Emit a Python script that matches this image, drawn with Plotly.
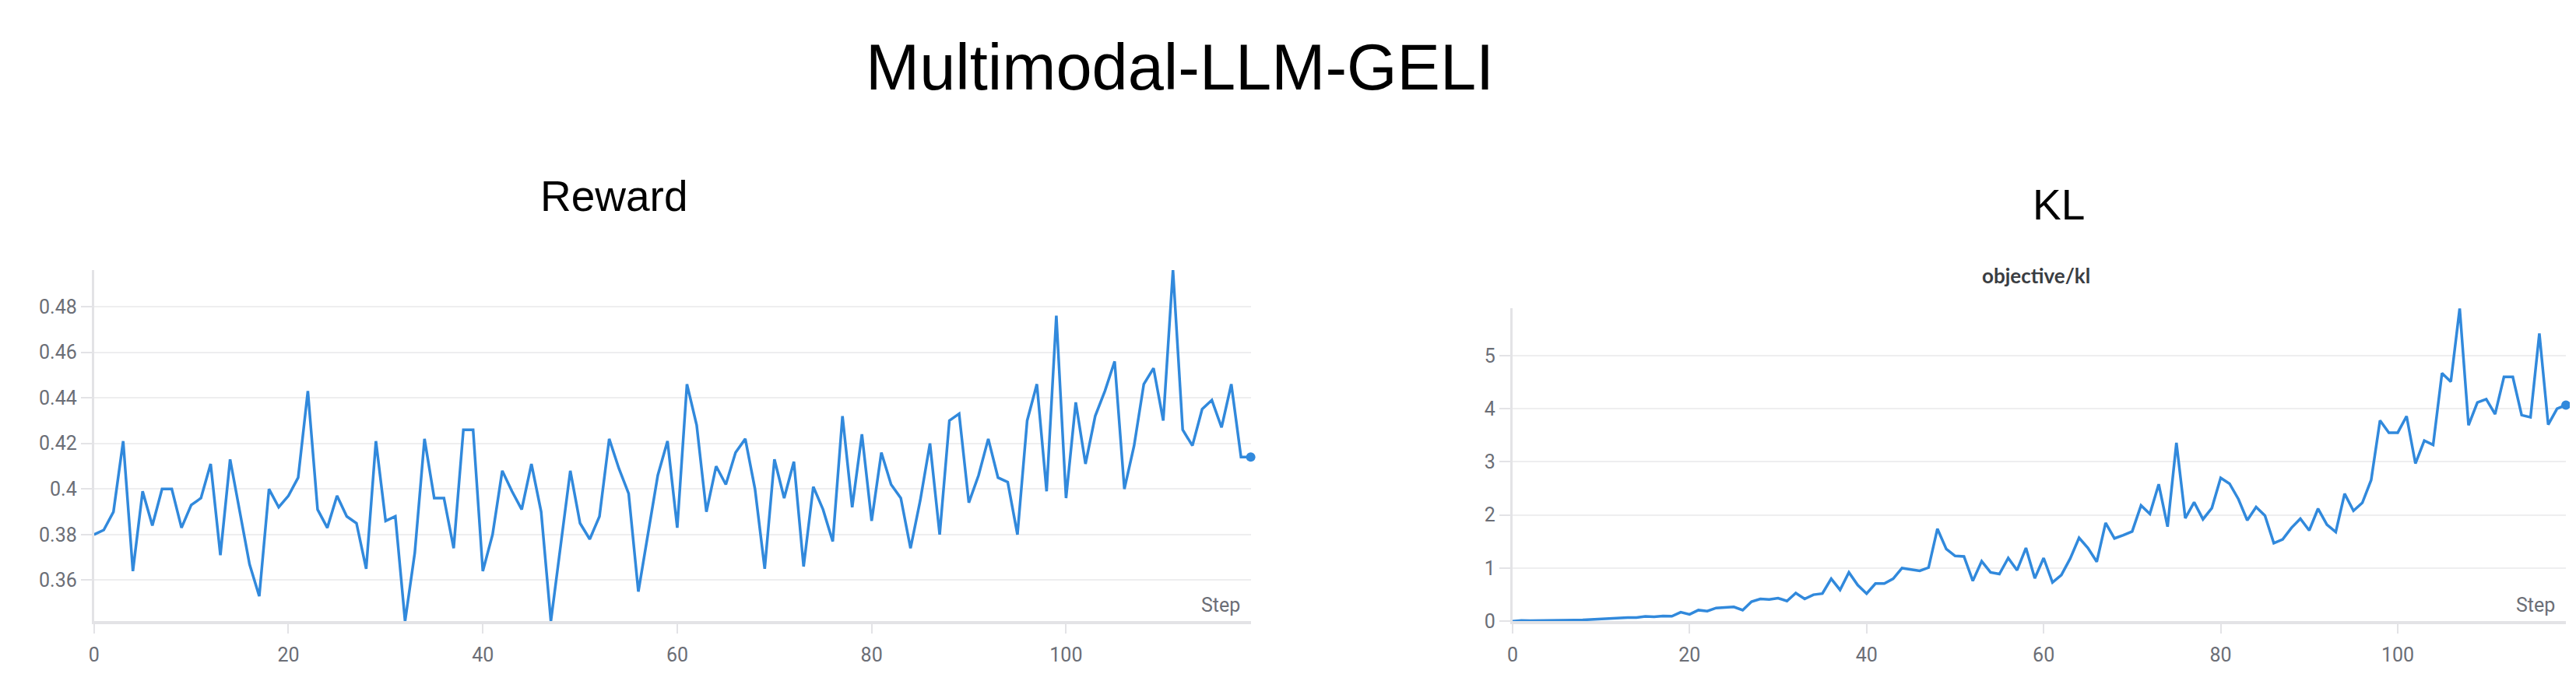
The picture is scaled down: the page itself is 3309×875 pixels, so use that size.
import plotly.graph_objects as go

# Данные
steps = list(range(120))

reward = [
    0.380, 0.382, 0.390, 0.421, 0.364, 0.399, 0.384, 0.400, 0.400, 0.383,
    0.393, 0.396, 0.411, 0.371, 0.413, 0.390, 0.367, 0.353, 0.400, 0.392,
    0.397, 0.405, 0.443, 0.391, 0.383, 0.397, 0.388, 0.385, 0.365, 0.421,
    0.386, 0.388, 0.342, 0.372, 0.422, 0.396, 0.396, 0.374, 0.426, 0.426,
    0.364, 0.380, 0.408, 0.399, 0.391, 0.411, 0.390, 0.342, 0.374, 0.408,
    0.385, 0.378, 0.388, 0.422, 0.409, 0.398, 0.355, 0.381, 0.406, 0.421,
    0.383, 0.446, 0.428, 0.390, 0.410, 0.402, 0.416, 0.422, 0.400, 0.365,
    0.413, 0.396, 0.412, 0.366, 0.401, 0.391, 0.377, 0.432, 0.392, 0.424,
    0.386, 0.416, 0.402, 0.396, 0.374, 0.395, 0.420, 0.380, 0.430, 0.433,
    0.394, 0.406, 0.422, 0.405, 0.403, 0.380, 0.430, 0.446, 0.399, 0.476,
    0.396, 0.438, 0.411, 0.432, 0.443, 0.456, 0.400, 0.419, 0.446, 0.453,
    0.430, 0.496, 0.426, 0.419, 0.435, 0.439, 0.427, 0.446, 0.414, 0.414,
]

kl = [
    0.0, 0.015, 0.01, 0.01, 0.01, 0.012, 0.015, 0.02, 0.025, 0.035,
    0.045, 0.05, 0.06, 0.07, 0.07, 0.09, 0.085, 0.10, 0.095, 0.17,
    0.13, 0.21, 0.19, 0.25, 0.26, 0.27, 0.21, 0.37, 0.42, 0.41,
    0.435, 0.38, 0.53, 0.42, 0.50, 0.52, 0.80, 0.59, 0.92, 0.68,
    0.52, 0.71, 0.71, 0.80, 1.00, 0.98, 0.95, 1.01, 1.74, 1.36,
    1.23, 1.22, 0.76, 1.13, 0.92, 0.89, 1.19, 0.96, 1.38, 0.81,
    1.19, 0.73, 0.87, 1.18, 1.57, 1.38, 1.12, 1.85, 1.56, 1.62,
    1.69, 2.18, 2.02, 2.58, 1.78, 3.36, 1.94, 2.24, 1.92, 2.13,
    2.70, 2.59, 2.30, 1.90, 2.15, 1.99, 1.47, 1.54, 1.76, 1.93,
    1.71, 2.12, 1.82, 1.68, 2.40, 2.08, 2.23, 2.66, 3.78, 3.55,
    3.55, 3.86, 2.97, 3.40, 3.32, 4.67, 4.51, 5.89, 3.69, 4.12,
    4.18, 3.90, 4.60, 4.60, 3.88, 3.84, 5.42, 3.70, 4.00, 4.07,
]

W, H = 3309, 875
line_color = "#3189dc"
tick_font = dict(family="Roboto, Lato, sans-serif", size=25, color="#6b6e76")
grid_color = "#eeeeef"
axis_color = "#e3e3e6"

fig = go.Figure()

# Reward
fig.add_trace(go.Scatter(x=steps, y=reward, mode="lines",
                         line=dict(color=line_color, width=3.5),
                         xaxis="x", yaxis="y", showlegend=False))
fig.add_trace(go.Scatter(x=[steps[-1]], y=[reward[-1]], mode="markers",
                         marker=dict(color=line_color, size=12),
                         xaxis="x", yaxis="y", showlegend=False, cliponaxis=False))

# KL
fig.add_trace(go.Scatter(x=steps, y=kl, mode="lines",
                         line=dict(color=line_color, width=3.5),
                         xaxis="x2", yaxis="y2", showlegend=False))
fig.add_trace(go.Scatter(x=[steps[-1]], y=[kl[-1]], mode="markers",
                         marker=dict(color=line_color, size=12),
                         xaxis="x2", yaxis="y2", showlegend=False, cliponaxis=False))

xcommon = dict(range=[0, 119], dtick=20, showgrid=False, zeroline=False,
               showline=True, linecolor=axis_color, linewidth=4,
               ticks="outside", ticklen=12, tickwidth=2, tickcolor=axis_color,
               tickfont=tick_font, ticklabelstandoff=6)
ycommon = dict(showgrid=True, gridcolor=grid_color, gridwidth=2, zeroline=False,
               showline=True, linecolor=axis_color, linewidth=3,
               ticks="outside", ticklen=14, tickwidth=2, tickcolor=axis_color,
               tickfont=tick_font)

fig.update_layout(
    width=W, height=H,
    margin=dict(l=0, r=0, t=0, b=0),
    paper_bgcolor="white", plot_bgcolor="white",
    xaxis=dict(domain=[106 / W, 1595 / W], anchor="y", **xcommon),
    yaxis=dict(domain=[1 - 804 / H, 1 - 345 / H], anchor="x",
               range=[min(reward), max(reward)], dtick=0.02, **ycommon),
    xaxis2=dict(domain=[1932 / W, 3288 / W], anchor="y2", **xcommon),
    yaxis2=dict(domain=[1 - 804 / H, 1 - 395 / H], anchor="x2",
                range=[0, max(kl)], dtick=1, **ycommon),
)

title_font = dict(family="Liberation Sans, Arial, sans-serif", color="black")
annotations = [
    dict(text="Multimodal-LLM-GELI", x=1504 / W, y=1 - 80 / H,
         font=dict(size=83, **title_font)),
    dict(text="Reward", x=776 / W, y=1 - 248 / H, font=dict(size=55, **title_font)),
    dict(text="KL", x=2635 / W, y=1 - 259 / H, font=dict(size=55, **title_font)),
    dict(text="<b>objective/kl</b>", x=2606 / W, y=1 - 352 / H,
         font=dict(family="Lato, Roboto, sans-serif", size=26, color="#3a3d42")),
]
for a in annotations:
    a.update(xref="paper", yref="paper", xanchor="center", yanchor="middle",
             showarrow=False)
for xr, yr in [("x domain", "y domain"), ("x2 domain", "y2 domain")]:
    annotations.append(dict(text="Step", xref=xr, yref=yr, x=1, y=0,
                            xanchor="right", yanchor="bottom", xshift=-12, yshift=4,
                            showarrow=False, font=tick_font))
fig.update_layout(annotations=annotations)

fig.write_html("out.html")
